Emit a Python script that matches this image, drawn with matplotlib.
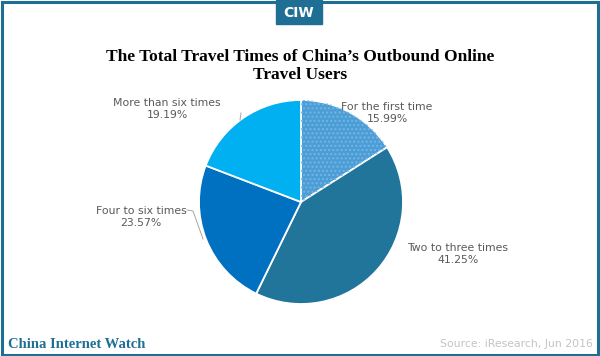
from matplotlib import pyplot as plt
from matplotlib.patches import Rectangle, Wedge

# data
categories = ['For the first time', 'Two to three times', 'Four to six times', 'More than six times']
shares = [15.99, 41.25, 23.57, 19.19]
colors = ['#4A9DD6', '#21759B', '#0070C0', '#00B0F0']

title = 'The Total Travel Times of China\u2019s Outbound Online\nTravel Users'
source = 'Source: iResearch, Jun 2016'
brand = 'China Internet Watch'

# label placement, pixel offsets from the pie centre (layout only)
label_pos = [(86, 89), (157, -52), (-160, -15), (-134, 93)]

W, H = 600, 356
fig = plt.figure(figsize=(W / 100, H / 100), dpi=100)
frame = '#1F6F94'

# pie axes: 1 data unit = 1 pixel, centre at (301, 202) from top-left
cx, cy, half = 301, 202, 120
ax = fig.add_axes([(cx - half) / W, (H - cy - half) / H, 2 * half / W, 2 * half / H])

R = 102
wedges, _ = ax.pie(shares, colors=colors, startangle=90, counterclock=False,
                   radius=R, wedgeprops=dict(edgecolor='white', linewidth=1.3))

# dotted texture on the first slice
w0 = wedges[0]
ax.add_patch(Wedge((0, 0), R, w0.theta1, w0.theta2, facecolor='none',
                   edgecolor='#78B4E0', linewidth=0, hatch='....'))

ax.set_xlim(-half, half)
ax.set_ylim(-half, half)
ax.set_aspect('equal')
ax.axis('off')

for name, val, (lx, ly) in zip(categories, shares, label_pos):
    ax.text(lx, ly, f'{name}\n{val:.2f}%', ha='center', va='center',
            fontsize=7.8, color='#595959', family='DejaVu Sans', linespacing=1.25)

# leader lines
ax.plot([-60, -61], [89, 82], color='#A6A6A6', lw=0.7, clip_on=False)
ax.plot([-114, -108, -98], [-8, -9, -37], color='#A6A6A6', lw=0.7, clip_on=False)

# title
fig.text(0.5, 1 - 66 / H, title, ha='center', va='center', fontsize=12.5,
         fontweight='bold', family='Liberation Serif', linespacing=1.2)

# frame and tab
fig.patches.append(Rectangle((0.003, 0.004), 0.994, 0.99, transform=fig.transFigure,
                             fill=False, edgecolor=frame, linewidth=2.2))
fig.patches.append(Rectangle((276 / W, 1 - 24 / H), 46 / W, 24 / H,
                             transform=fig.transFigure, color=frame))
fig.text(299 / W, 1 - 13 / H, 'CIW', ha='center', va='center', color='white',
         fontsize=10, fontweight='bold', family='DejaVu Sans')

# footer
fig.text(8 / W, 1 - 344 / H, brand, ha='left', va='center', color=frame,
         fontsize=10.5, fontweight='bold', family='Liberation Serif')
fig.text(593 / W, 1 - 344 / H, source, ha='right', va='center', color='#C4C4C4',
         fontsize=7.8, family='DejaVu Sans')

fig.savefig('out.png', dpi=100)
